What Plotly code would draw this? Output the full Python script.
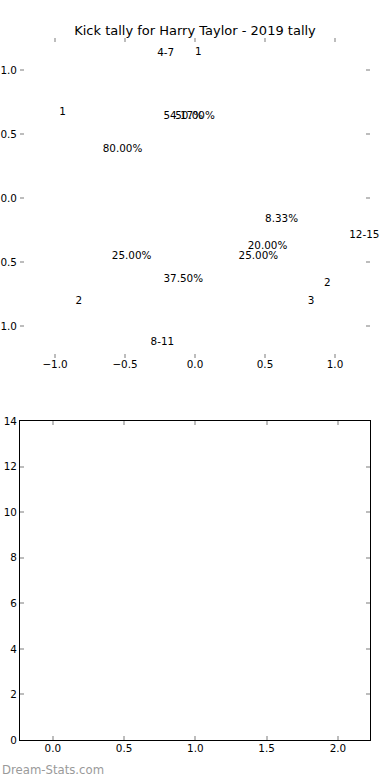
import numpy as np
import plotly.graph_objects as go

# ---------------- data ----------------
title_text = "Kick tally for Harry Taylor - 2019 tally"
pie_a_labels = ["4-7", "8-11", "12-15"]
pie_a_values = [13, 9, 2]
pie_b_labels = ["1", "2"]
pie_b_values = [4, 1]
pie_c_labels = ["1", "2", "3"]
pie_c_values = [2, 1, 1]
pie_ticks = [-1.0, -0.5, 0.0, 0.5, 1.0]
bar_x_ticks = [0.0, 0.5, 1.0, 1.5, 2.0]
bar_y_ticks = [0, 2, 4, 6, 8, 10, 12, 14]
watermark = "Dream-Stats.com"

# ---------------- style ----------------
FONT = "DejaVu Sans"
LABEL_R = 1.14
PCT_R = 0.64
TXT = 10.4
TICKGRAY = "#bdbdbd"


def pie_geometry(values):
    v = np.asarray(values, dtype=float)
    frac = v / v.sum()
    edges = np.concatenate([[0.0], np.cumsum(frac)])
    mid = np.pi * (edges[:-1] + edges[1:])
    return frac, np.cos(mid), np.sin(mid)


fig = go.Figure()

for labels, values in [(pie_a_labels, pie_a_values),
                       (pie_b_labels, pie_b_values),
                       (pie_c_labels, pie_c_values)]:
    frac, cx, cy = pie_geometry(values)
    lx, ly = LABEL_R * cx, LABEL_R * cy
    fig.add_trace(go.Scatter(
        x=lx, y=ly, text=labels, mode="text", cliponaxis=False,
        textposition=["middle right" if v > 0 else "middle left" for v in lx],
        textfont=dict(family=FONT, size=TXT, color="black"),
        hoverinfo="skip", showlegend=False, xaxis="x", yaxis="y"))
    fig.add_trace(go.Scatter(
        x=PCT_R * cx, y=PCT_R * cy, text=[f"{f*100:.2f}%" for f in frac],
        mode="text", textposition="middle center", cliponaxis=False,
        textfont=dict(family=FONT, size=TXT, color="black"),
        hoverinfo="skip", showlegend=False, xaxis="x", yaxis="y"))

# empty lower panel
fig.add_trace(go.Bar(x=[], y=[], xaxis="x2", yaxis="y2", showlegend=False))

common = dict(showgrid=False, zeroline=False, ticks="inside", ticklen=4,
              tickwidth=1.5, tickcolor=TICKGRAY, mirror="ticks",
              tickfont=dict(family=FONT, size=TXT, color="black"),
              automargin=False, fixedrange=True)

fig.update_layout(
    width=390, height=780,
    template="none",
    paper_bgcolor="white", plot_bgcolor="white",
    margin=dict(l=20, r=20, t=38, b=40),
    title=dict(text=title_text, x=0.5, xanchor="center", y=1 - 30 / 780,
               yanchor="middle", xref="container", yref="container",
               font=dict(family=FONT, size=13, color="black")),
    xaxis=dict(domain=[0, 1], range=[-1.25, 1.25], anchor="y",
               tickvals=pie_ticks, tickformat=".1f", ticklabelstandoff=-3,
               showline=True, linecolor="rgba(0,0,0,0)", **common),
    yaxis=dict(domain=[0.5442, 1], range=[-1.25, 1.25], anchor="x",
               tickvals=pie_ticks, tickformat=".1f",
               showline=True, linecolor="rgba(0,0,0,0)", **common),
    xaxis2=dict(domain=[0, 1], range=[-0.23, 2.225], anchor="y2",
                tickvals=bar_x_ticks, tickformat=".1f", ticklabelstandoff=-1,
                showline=True, linecolor="black", linewidth=1, **common),
    yaxis2=dict(domain=[0, 0.4544], range=[0, 14], anchor="x2",
                tickvals=bar_y_ticks,
                showline=True, linecolor="black", linewidth=1, **common),
    annotations=[dict(text=watermark, xref="paper", yref="paper",
                      x=-20 / 350, y=-30 / 702, xanchor="left",
                      yanchor="middle", showarrow=False,
                      font=dict(family=FONT, size=11.7, color="#9a9a9a"))],
)

fig.write_html("out.html", config={"displayModeBar": False},
               post_script="document.body.style.margin='0';"
                           "document.body.style.overflow='hidden';")
